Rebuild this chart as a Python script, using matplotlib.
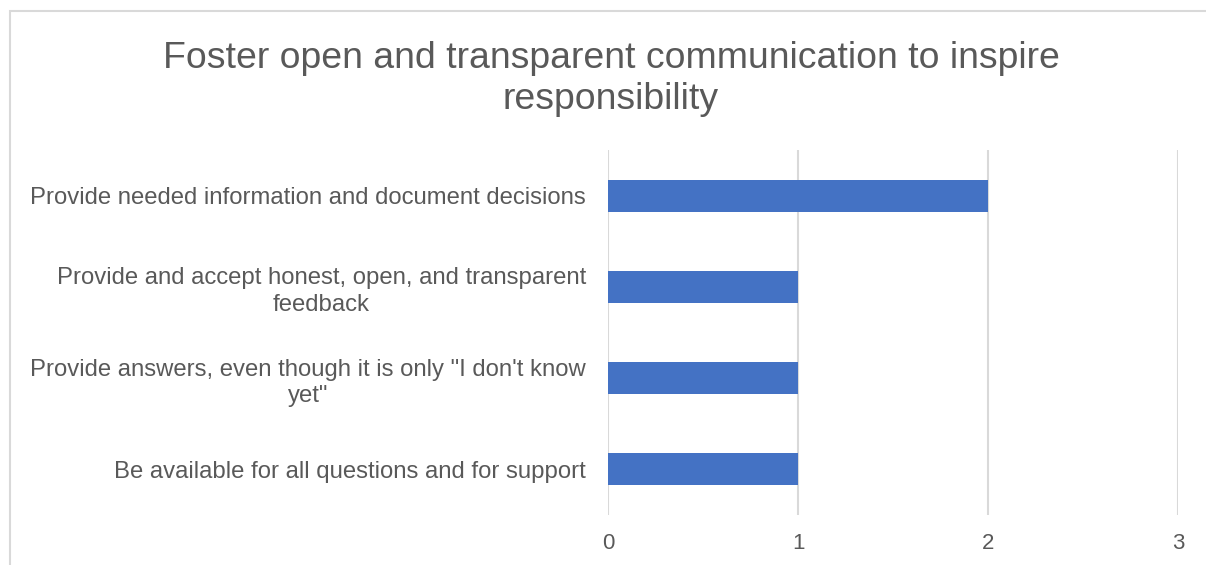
import matplotlib
matplotlib.use("Agg")
import matplotlib.pyplot as plt
from matplotlib.patches import Rectangle

categories = [
    "Provide needed information and document decisions",
    "Provide and accept honest, open, and transparent\nfeedback",
    "Provide answers, even though it is only \"I don't know\nyet\"",
    "Be available for all questions and for support",
]
values = [2, 1, 1, 1]
x_ticks = [0, 1, 2, 3]
title = "Foster open and transparent communication to inspire\nresponsibility"

plt.rcParams['font.family'] = ['Liberation Sans', 'DejaVu Sans']

W, H = 1206, 565
fig = plt.figure(figsize=(W / 100, H / 100), dpi=100)

# chart frame (extends beyond the right and bottom edges)
fig.patches.append(Rectangle((10 / W, -0.1), 1.2, 1 - 11 / H + 0.1,
                             transform=fig.transFigure, fill=False,
                             edgecolor='#d9d9d9', linewidth=1.5))

ax = fig.add_axes([608 / W, 1 - 515 / H, (1178 - 608) / W, (515 - 150) / H])
ypos = list(range(len(categories)))
ax.barh(ypos, values, height=0.35, color='#4472c4', zorder=3)
ax.set_ylim(len(categories) - 0.5, -0.5)
ax.set_xlim(0, 3)
ax.set_xticks(x_ticks)
ax.set_xticklabels([str(t) for t in x_ticks], fontsize=16, color='#595959')
ax.set_yticks(ypos)
ax.set_yticklabels(categories, fontsize=17.2, color='#595959',
                   multialignment='center', linespacing=1.28)
ax.tick_params(axis='both', length=0)
ax.tick_params(axis='x', pad=13)
ax.tick_params(axis='y', pad=16)
ax.grid(axis='x', color='#d9d9d9', linewidth=1.5, zorder=0)
for s in ax.spines.values():
    s.set_visible(False)

fig.text(611 / W, 1 - 79 / H, title, ha='center', va='center',
         fontsize=26.9, color='#595959', linespacing=1.24)

fig.savefig("out.png", dpi=100)
